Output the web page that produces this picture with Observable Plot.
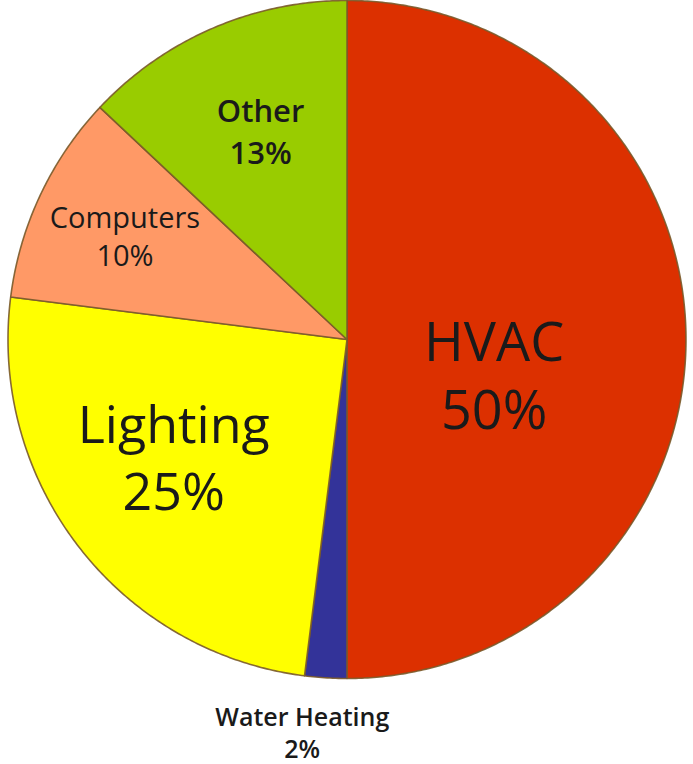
<!DOCTYPE html>
<html>
<head>
<meta charset="utf-8">
<script src="https://cdn.jsdelivr.net/npm/d3@7"></script>
<script src="https://cdn.jsdelivr.net/npm/@observablehq/plot@0.6"></script>
<style>
  html, body { margin: 0; padding: 0; background: #fff; }
</style>
</head>
<body>
<div id="chart"></div>
<script>
// ---- data (clockwise from 12 o'clock) ----
const categories = ["HVAC", "Water Heating", "Lighting", "Computers", "Other"];
const shares = [50, 2, 25, 10, 13];
const colors = ["#dc3000", "#333399", "#ffff00", "#ff9966", "#99cc00"];

// ---- label layout (unit-radius pie coordinates, y down) ----
const labelLayout = [
  {name: "HVAC", x: 0.434, y: 0.10, size: 54, lh: 1.26, weight: 400},
  {name: "Water Heating", x: -0.132, y: 1.158, size: 25, lh: 1.28, weight: 600},
  {name: "Lighting", x: -0.511, y: 0.34, size: 52, lh: 1.29, weight: 400},
  {name: "Computers", x: -0.655, y: -0.309, size: 29, lh: 1.3, weight: 400},
  {name: "Other", x: -0.255, y: -0.62, size: 31, lh: 1.36, weight: 600}
];

// ---- build slice polygons from the shares ----
const total = d3.sum(shares);
let acc = 0;
const features = categories.map((name, i) => {
  const a0 = acc / total * 2 * Math.PI;
  acc += shares[i];
  const a1 = acc / total * 2 * Math.PI;
  const n = Math.max(2, Math.ceil((a1 - a0) / (Math.PI / 360)));
  const ring = [[0, 0]];
  for (let k = 0; k <= n; ++k) {
    const a = a0 + (a1 - a0) * k / n;
    ring.push([Math.sin(a), -Math.cos(a)]);
  }
  ring.push([0, 0]);
  return {type: "Feature", properties: {name}, geometry: {type: "Polygon", coordinates: [ring]}};
});
const domain = {type: "FeatureCollection", features};

const labels = labelLayout.map(l => {
  const i = categories.indexOf(l.name);
  return {...l, text: `${l.name}\n${shares[i]}%`};
});

const textMarks = labels.map(l => Plot.text([l], {
  x: "x", y: "y", text: "text",
  fontSize: l.size, lineHeight: l.lh, fontWeight: l.weight,
  fontFamily: "'Open Sans', 'DejaVu Sans', sans-serif",
  fill: "#1a1a1a",
  textAnchor: "middle"
}));

const chart = Plot.plot({
  width: 693,
  height: 764,
  marginLeft: 7,
  marginRight: 7,
  marginTop: 0,
  marginBottom: 86,
  projection: {type: "identity", domain, clip: false},
  color: {domain: categories, range: colors},
  marks: [
    Plot.geo(features, {
      fill: d => d.properties.name,
      stroke: "#7a5a2a",
      strokeWidth: 1.6,
      strokeOpacity: 0.9
    }),
    ...textMarks
  ]
});
document.getElementById("chart").appendChild(chart);
</script>
</body>
</html>
